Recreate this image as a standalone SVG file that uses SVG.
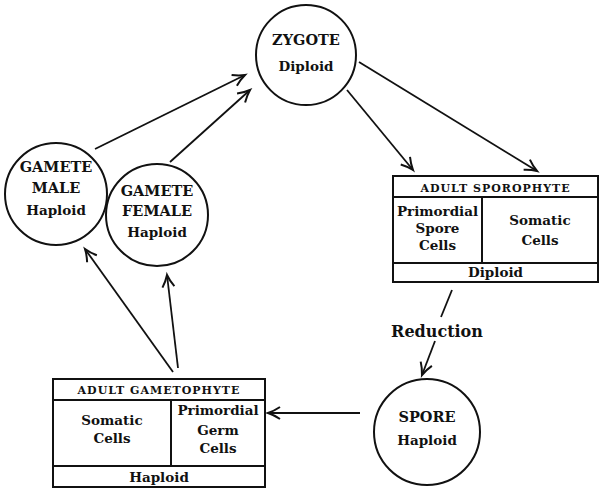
<svg xmlns="http://www.w3.org/2000/svg" width="601" height="493" viewBox="0 0 601 493">
<style>
  .c { fill: #fff; stroke: #111; stroke-width: 2; }
  .b { fill: none; stroke: #111; stroke-width: 2; }
  .a { fill: none; stroke: #111; stroke-width: 1.8; }
  text { font-family: "DejaVu Serif", "Liberation Serif", serif; font-weight: bold; fill: #111; text-anchor: middle; }
  .t { font-size: 14.5px; }
  .s { font-size: 13.5px; }
  .h { font-size: 11px; letter-spacing: 1px; }
  .r { font-size: 16px; }
</style>
<defs>
  <marker id="ah" markerUnits="userSpaceOnUse" markerWidth="20" markerHeight="20" refX="0" refY="0" viewBox="-14 -10 20 20" orient="auto">
    <path d="M -12 -6 Q -6 -2 0 0 Q -6 2 -12 6" fill="none" stroke="#111" stroke-width="2"/>
  </marker>
</defs>
<rect width="601" height="493" fill="#fff"/>
<g id="connectors">
  <line class="a" x1="95" y1="149" x2="245" y2="75" marker-end="url(#ah)"/>
  <line class="a" x1="170" y1="162" x2="250" y2="90" marker-end="url(#ah)"/>
  <line class="a" x1="347" y1="90" x2="413" y2="170" marker-end="url(#ah)"/>
  <line class="a" x1="359" y1="62" x2="537" y2="171" marker-end="url(#ah)"/>
  <line class="a" x1="452" y1="290" x2="441" y2="317"/>
  <line class="a" x1="435" y1="341" x2="422" y2="375" marker-end="url(#ah)"/>
  <text class="r" x="437" y="337">Reduction</text>
  <line class="a" x1="360" y1="413" x2="268" y2="413" marker-end="url(#ah)"/>
  <line class="a" x1="173" y1="372" x2="85" y2="249" marker-end="url(#ah)"/>
  <line class="a" x1="178" y1="368" x2="167" y2="275" marker-end="url(#ah)"/>
</g>
<g id="zygote">
  <circle class="c" cx="306" cy="55" r="50"/>
  <text class="t" x="306" y="45">ZYGOTE</text>
  <text class="s" x="306" y="71">Diploid</text>
</g>
<g id="gamete-male">
  <circle class="c" cx="56" cy="194" r="51"/>
  <text class="t" x="56" y="172">GAMETE</text>
  <text class="t" x="56" y="193">MALE</text>
  <text class="s" x="56" y="215">Haploid</text>
</g>
<g id="gamete-female">
  <circle class="c" cx="157" cy="215" r="51"/>
  <text class="t" x="157" y="196">GAMETE</text>
  <text class="t" x="157" y="216">FEMALE</text>
  <text class="s" x="157" y="237">Haploid</text>
</g>
<g id="adult-sporophyte">
  <rect class="b" x="393" y="176" width="205" height="106"/>
  <line class="b" x1="393" y1="197" x2="598" y2="197"/>
  <line class="b" x1="393" y1="263" x2="598" y2="263"/>
  <line class="b" x1="482" y1="197" x2="482" y2="263"/>
  <text class="h" x="495.5" y="192">ADULT SPOROPHYTE</text>
  <text class="s" x="437.5" y="216">Primordial</text>
  <text class="s" x="437.5" y="233">Spore</text>
  <text class="s" x="437.5" y="250">Cells</text>
  <text class="s" x="540" y="225">Somatic</text>
  <text class="s" x="540" y="245">Cells</text>
  <text class="s" x="495.5" y="277">Diploid</text>
</g>
<g id="spore">
  <circle class="c" cx="427" cy="432" r="53"/>
  <text class="t" x="427" y="422">SPORE</text>
  <text class="s" x="427" y="445">Haploid</text>
</g>
<g id="adult-gametophyte">
  <rect class="b" x="53" y="379" width="212" height="108"/>
  <line class="b" x1="53" y1="400" x2="265" y2="400"/>
  <line class="b" x1="53" y1="466" x2="265" y2="466"/>
  <line class="b" x1="171" y1="400" x2="171" y2="466"/>
  <text class="h" x="159" y="394">ADULT GAMETOPHYTE</text>
  <text class="s" x="112" y="425">Somatic</text>
  <text class="s" x="112" y="443">Cells</text>
  <text class="s" x="218" y="415">Primordial</text>
  <text class="s" x="218" y="435">Germ</text>
  <text class="s" x="218" y="453">Cells</text>
  <text class="s" x="159" y="482">Haploid</text>
</g>
</svg>
